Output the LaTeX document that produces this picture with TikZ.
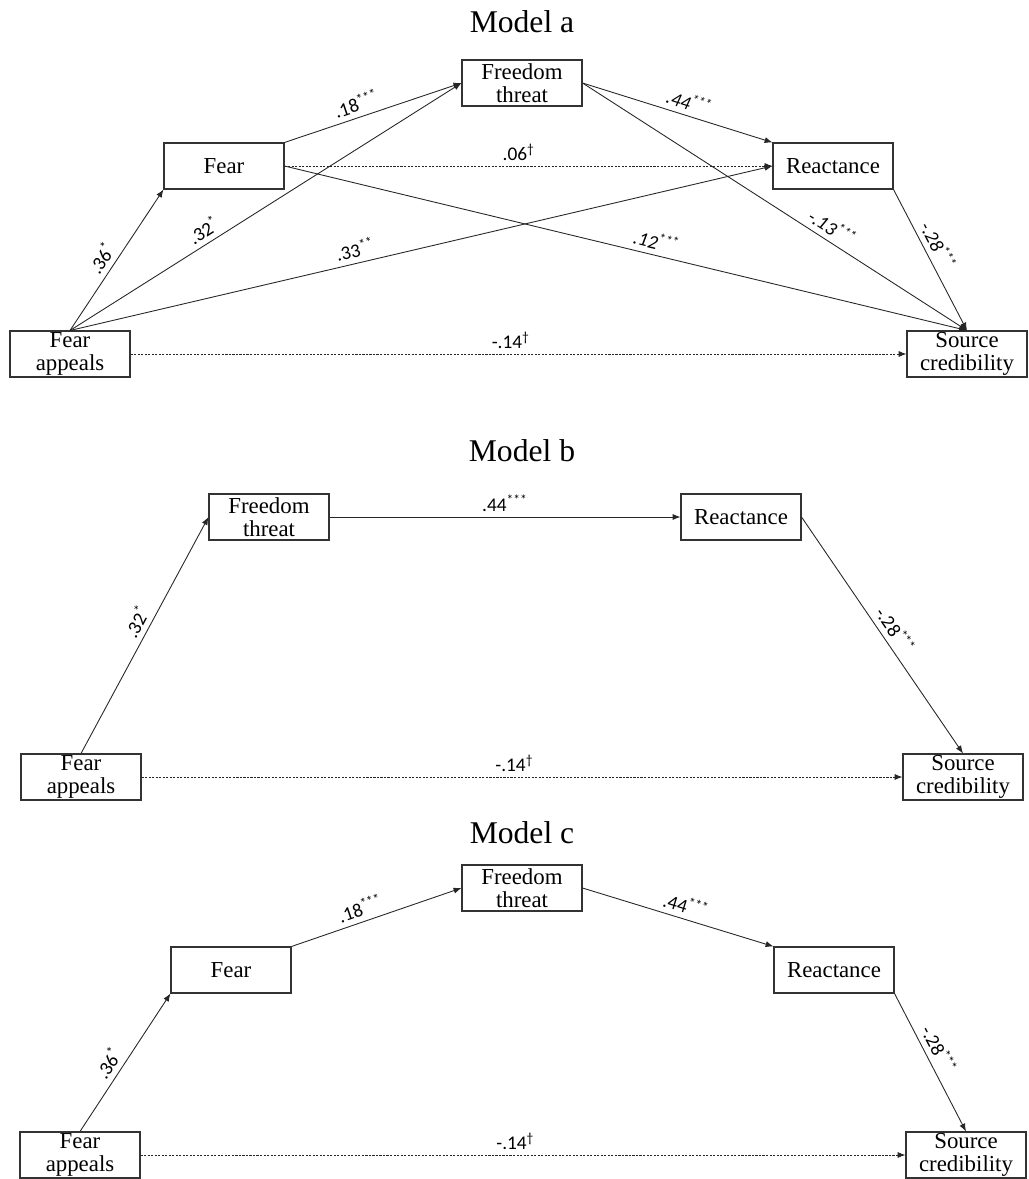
\documentclass[tikz,border=0pt]{standalone}
\usepackage{fontspec}
\setmainfont{Liberation Serif}
\newfontfamily\lblfont{Carlito}
\usetikzlibrary{arrows.meta}

\begin{document}
\begin{tikzpicture}[x=0.02cm,y=-0.02cm,
  box/.style={draw=black!80,line width=0.6pt,minimum width=2.4cm,minimum height=0.92cm,inner sep=0pt,align=center,font=\fontsize{13}{13.2}\selectfont},
  ttl/.style={font=\fontsize{18}{19}\selectfont},
  lbl/.style={font=\lblfont\fontsize{11}{12}\selectfont,inner sep=3pt},
  ilbl/.style={lbl,font=\lblfont\itshape\fontsize{11}{12}\selectfont},
  arr/.style={->,draw=black!85,line width=0.5pt},
  dotarr/.style={arr,dash pattern=on 1.2pt off 0.8pt},
  >={Latex[length=4.5pt,width=3.5pt]}]
\useasboundingbox (0,0) rectangle (1028,1179);

\node[ttl] (Ta) at (522,22) {Model a};
\node[box] (FAa) at (70,354) {Fear\\appeals};
\node[box] (Fa) at (224,166) {Fear};
\node[box] (FTa) at (522,83) {Freedom\\threat};
\node[box] (Ra) at (833,166) {Reactance};
\node[box] (SCa) at (967,354) {Source\\credibility};
\draw[arr] (FAa.north) -- node[lbl,sloped,above,pos=.46]{.36\textsuperscript{*}} (Fa.south west);
\draw[arr] (FAa.north) -- node[lbl,sloped,above,pos=.36]{.32\textsuperscript{*}} (FTa.west);
\draw[arr] (FAa.north) -- node[lbl,sloped,above,pos=.41]{.33\textsuperscript{**}} (Ra.west);
\draw[arr] (Fa.north east) -- node[lbl,sloped,above,pos=.43]{.18\textsuperscript{***}} (FTa.west);
\draw[dotarr] (Fa.east) -- node[lbl,above,pos=.48]{.06\textsuperscript{\textdagger}} (Ra.west);
\draw[arr] (Fa.east) -- node[ilbl,sloped,above,pos=.54]{.12\textsuperscript{***}} (SCa.north);
\draw[arr] (FTa.east) -- node[ilbl,sloped,above,pos=.54]{.44\textsuperscript{***}} (Ra.north west);
\draw[arr] (FTa.east) -- node[ilbl,sloped,above,pos=.63]{-.13\textsuperscript{***}} (SCa.north);
\draw[arr] (Ra.south east) -- node[ilbl,sloped,above,pos=.44]{-.28\textsuperscript{***}} (SCa.north);
\draw[dotarr] (FAa.east) -- node[lbl,above,pos=.49]{-.14\textsuperscript{\textdagger}} (SCa.west);

\node[ttl] (Tb) at (522,451) {Model b};
\node[box] (FAb) at (81,777) {Fear\\appeals};
\node[box] (FTb) at (269,517) {Freedom\\threat};
\node[box] (Rb) at (741,517) {Reactance};
\node[box] (SCb) at (963,777) {Source\\credibility};
\draw[arr] (FAb.north) -- node[lbl,sloped,above,pos=.53]{.32\textsuperscript{*}} (FTb.west);
\draw[arr] (FTb.east) -- node[lbl,above]{.44\textsuperscript{***}} (Rb.west);
\draw[arr] (Rb.east) -- node[lbl,sloped,above,pos=.51]{-.28\textsuperscript{***}} (SCb.north);
\draw[dotarr] (FAb.east) -- node[lbl,above,pos=.49]{-.14\textsuperscript{\textdagger}} (SCb.west);

\node[ttl] (Tc) at (522,833) {Model c};
\node[box] (FAc) at (80,1155) {Fear\\appeals};
\node[box] (Fc) at (231,970) {Fear};
\node[box] (FTc) at (522,888) {Freedom\\threat};
\node[box] (Rc) at (834,970) {Reactance};
\node[box] (SCc) at (966,1155) {Source\\credibility};
\draw[arr] (FAc.north) -- node[lbl,sloped,above,pos=.44]{.36\textsuperscript{*}} (Fc.south west);
\draw[arr] (Fc.north east) -- node[lbl,sloped,above,pos=.43]{.18\textsuperscript{***}} (FTc.west);
\draw[arr] (FTc.east) -- node[lbl,sloped,above,pos=.52]{.44\textsuperscript{***}} (Rc.north west);
\draw[arr] (Rc.south east) -- node[lbl,sloped,above,pos=.45]{-.28\textsuperscript{***}} (SCc.north);
\draw[dotarr] (FAc.east) -- node[lbl,above,pos=.49]{-.14\textsuperscript{\textdagger}} (SCc.west);
\end{tikzpicture}
\end{document}
